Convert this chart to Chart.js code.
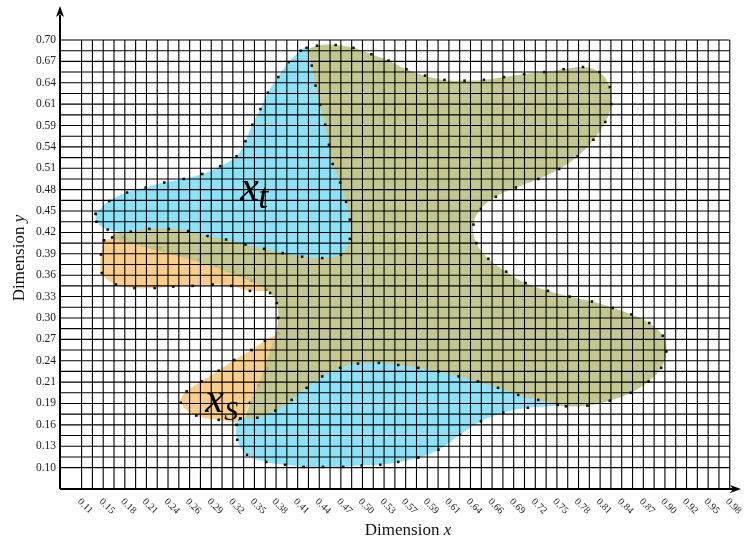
<!DOCTYPE html>
<html>
<head>
<meta charset="utf-8">
<script src="https://cdn.jsdelivr.net/npm/chart.js@4.4.1/dist/chart.umd.min.js"></script>
<style>
  html, body { margin: 0; padding: 0; background: #fff; }
  canvas { display: block; }
</style>
</head>
<body>
<canvas id="domains" width="745" height="541"></canvas>
<script>
// tick labels as printed on the axes (every second grid line)
const xTickLabels = ["0.11", "0.15", "0.18", "0.21", "0.24", "0.26", "0.29", "0.32", "0.35", "0.38",
  "0.41", "0.44", "0.47", "0.50", "0.53", "0.57", "0.59", "0.61", "0.64", "0.66", "0.69", "0.72",
  "0.75", "0.78", "0.81", "0.84", "0.87", "0.90", "0.92", "0.95", "0.98"];
const yTickLabels = ["0.10", "0.13", "0.16", "0.19", "0.21", "0.24", "0.27", "0.30", "0.33", "0.36",
  "0.39", "0.42", "0.45", "0.48", "0.51", "0.54", "0.59", "0.61", "0.64", "0.67", "0.70"];

// outlines, [x, y] in axis units
const xtUpper = [[0.129,0.456],[0.147,0.474],[0.171,0.486],[0.196,0.493],[0.221,0.500],[0.247,0.505],
  [0.272,0.512],[0.296,0.523],[0.318,0.537],[0.330,0.558],[0.339,0.581],[0.350,0.603],[0.360,0.626],
  [0.374,0.648],[0.388,0.669],[0.404,0.685],[0.412,0.689],[0.419,0.664],[0.424,0.636],[0.430,0.609],
  [0.437,0.581],[0.442,0.553],[0.447,0.526],[0.457,0.500],[0.465,0.473],[0.470,0.448],[0.470,0.421],
  [0.458,0.399],[0.433,0.394],[0.406,0.396],[0.380,0.401],[0.355,0.407],[0.330,0.413],[0.304,0.420],
  [0.279,0.425],[0.253,0.432],[0.227,0.435],[0.201,0.435],[0.176,0.431],[0.145,0.434],[0.130,0.445]];

const xtLower = [[0.323,0.169],[0.346,0.170],[0.370,0.180],[0.392,0.195],[0.412,0.212],[0.433,0.228],
  [0.457,0.240],[0.481,0.246],[0.509,0.247],[0.535,0.244],[0.562,0.240],[0.589,0.235],[0.616,0.228],
  [0.642,0.221],[0.669,0.212],[0.696,0.202],[0.723,0.195],[0.749,0.188],[0.709,0.184],[0.676,0.177],
  [0.646,0.165],[0.618,0.146],[0.589,0.125],[0.562,0.114],[0.535,0.108],[0.511,0.104],[0.486,0.103],
  [0.461,0.101],[0.434,0.101],[0.408,0.101],[0.383,0.104],[0.358,0.108],[0.332,0.118],[0.319,0.139],
  [0.318,0.160]];

const xsLeft = [[0.140,0.419],[0.165,0.423],[0.191,0.415],[0.216,0.408],[0.241,0.401],[0.267,0.392],
  [0.291,0.384],[0.315,0.374],[0.338,0.363],[0.359,0.350],[0.336,0.348],[0.311,0.355],[0.286,0.357],
  [0.259,0.355],[0.233,0.354],[0.208,0.352],[0.181,0.352],[0.156,0.357],[0.137,0.373],[0.136,0.399]];

const xsLower = [[0.374,0.288],[0.356,0.278],[0.338,0.265],[0.315,0.251],[0.294,0.236],[0.271,0.221],
  [0.251,0.207],[0.243,0.191],[0.264,0.173],[0.294,0.167],[0.322,0.166],[0.336,0.191],[0.348,0.215],
  [0.360,0.239],[0.370,0.265]];

const overlap = [[0.407,0.683],[0.426,0.692],[0.451,0.693],[0.475,0.689],[0.499,0.680],[0.522,0.671],
  [0.546,0.659],[0.571,0.650],[0.597,0.644],[0.624,0.643],[0.650,0.644],[0.677,0.648],[0.704,0.652],
  [0.731,0.655],[0.757,0.659],[0.783,0.662],[0.805,0.655],[0.819,0.634],[0.821,0.610],[0.813,0.585],
  [0.797,0.560],[0.776,0.537],[0.751,0.519],[0.723,0.505],[0.693,0.493],[0.666,0.480],[0.646,0.463],
  [0.636,0.441],[0.640,0.415],[0.656,0.393],[0.680,0.375],[0.706,0.359],[0.736,0.348],[0.765,0.340],
  [0.795,0.333],[0.823,0.324],[0.848,0.315],[0.872,0.303],[0.890,0.285],[0.895,0.263],[0.888,0.240],
  [0.871,0.221],[0.847,0.205],[0.819,0.194],[0.789,0.187],[0.760,0.186],
  [0.723,0.191],[0.669,0.202],[0.589,0.219],[0.509,0.225],[0.442,0.207],[0.395,0.180],[0.351,0.159],
  [0.330,0.162],[0.335,0.188],[0.343,0.207],[0.351,0.226],[0.358,0.247],[0.364,0.268],[0.371,0.289],
  [0.374,0.310],[0.372,0.331],[0.363,0.345],[0.343,0.359],[0.319,0.369],[0.294,0.379],[0.268,0.388],
  [0.243,0.396],[0.217,0.403],[0.192,0.410],[0.168,0.417],[0.151,0.423],
  [0.175,0.437],[0.268,0.437],[0.375,0.413],[0.455,0.420],[0.459,0.476],[0.434,0.560],[0.419,0.637],
  [0.408,0.672]];

// grid: a line every step, labels on every second one
const xFirst = 0.11, xStep = 0.0145, xCount = 60;
const yFirst = 0.10, yStep = 0.015, yCount = 40;
const xMin = xFirst - 2 * xStep, xMax = 0.9951;
const yMin = yFirst - 2 * yStep, yMax = 0.7463;

const blue = "#8de2f7";
const orange = "#f9cd8b";
const olive = "rgba(190, 194, 132, 0.9)";
const serif = '"Liberation Serif", "Times New Roman", serif';

function closed(points) {
  return points.concat([points[0]]).map(([x, y]) => ({ x: x, y: y }));
}

function shape(label, points, color) {
  return {
    label: label,
    data: closed(points),
    showLine: true,
    fill: "shape",
    tension: 0.4,
    backgroundColor: color,
    borderColor: "rgba(0,0,0,0)",
    borderWidth: 0,
    pointStyle: "rect",
    pointRadius: 1.8,
    pointBackgroundColor: "#111",
    pointBorderWidth: 0,
  };
}

// olive edge points that sit over the orange shape carry no dot
const oliveBare = [[54, 59], [63, 70]];
const oliveRadius = (c) =>
  oliveBare.some(([a, b]) => c.dataIndex >= a && c.dataIndex <= b) ? 0 : 1.8;

function arrowHead(ctx, tx, ty, dir) {
  ctx.beginPath();
  if (dir === "up") {
    ctx.moveTo(tx, ty);
    ctx.lineTo(tx - 4, ty + 11);
    ctx.lineTo(tx, ty + 8);
    ctx.lineTo(tx + 4, ty + 11);
  } else {
    ctx.moveTo(tx, ty);
    ctx.lineTo(tx - 11, ty - 4);
    ctx.lineTo(tx - 8, ty);
    ctx.lineTo(tx - 11, ty + 4);
  }
  ctx.closePath();
  ctx.fill();
}

function mixedTitle(ctx, plain, italic, cx, cy, size) {
  ctx.font = size + "px " + serif;
  const w1 = ctx.measureText(plain).width;
  ctx.font = "italic " + size + "px " + serif;
  const w2 = ctx.measureText(italic).width;
  const start = cx - (w1 + w2) / 2;
  ctx.font = size + "px " + serif;
  ctx.fillText(plain, start, cy);
  ctx.font = "italic " + size + "px " + serif;
  ctx.fillText(italic, start + w1, cy);
}

const gridPlugin = {
  id: "gridPlugin",
  afterDatasetsDraw(chart) {
    const { ctx, scales: { x, y } } = chart;
    const bottom = y.getPixelForValue(yMin);
    const top = y.getPixelForValue(yFirst + yCount * yStep);
    const left = x.getPixelForValue(xMin);
    const right = x.getPixelForValue(xFirst + xCount * xStep);
    ctx.save();
    ctx.strokeStyle = "#000";
    ctx.lineWidth = 1.1;
    ctx.beginPath();
    for (let i = 0; i <= xCount; i++) {
      const px = x.getPixelForValue(xFirst + i * xStep);
      ctx.moveTo(px, bottom);
      ctx.lineTo(px, top);
    }
    for (let j = 0; j <= yCount; j++) {
      const py = y.getPixelForValue(yFirst + j * yStep);
      ctx.moveTo(left, py);
      ctx.lineTo(right, py);
    }
    ctx.stroke();
    ctx.restore();
  },
  afterDraw(chart) {
    const { ctx, chartArea, scales: { x, y } } = chart;
    const x0 = chartArea.left, y0 = chartArea.bottom;
    ctx.save();
    // axes with arrow heads
    ctx.strokeStyle = "#000";
    ctx.fillStyle = "#000";
    ctx.lineWidth = 2;
    ctx.beginPath();
    ctx.moveTo(x0, y0);
    ctx.lineTo(x0, chartArea.top + 8);
    ctx.moveTo(x0, y0);
    ctx.lineTo(chartArea.right - 8, y0);
    ctx.stroke();
    arrowHead(ctx, x0, chartArea.top - 1, "up");
    arrowHead(ctx, chartArea.right, y0, "right");

    // tick labels
    ctx.fillStyle = "#222";
    ctx.font = "11.5px " + serif;
    ctx.textAlign = "right";
    ctx.textBaseline = "middle";
    yTickLabels.forEach((t, k) => {
      ctx.fillText(t, x0 - 4, y.getPixelForValue(yFirst + 2 * k * yStep));
    });
    ctx.font = "10px " + serif;
    ctx.textAlign = "left";
    ctx.textBaseline = "top";
    xTickLabels.forEach((t, k) => {
      const px = x.getPixelForValue(xFirst + 2 * k * xStep);
      ctx.save();
      ctx.translate(px + 1, y0 + 7.5);
      ctx.rotate(Math.PI / 4);
      ctx.fillText(t, 0, 0);
      ctx.restore();
    });

    // axis titles
    ctx.fillStyle = "#111";
    ctx.textAlign = "left";
    ctx.textBaseline = "alphabetic";
    mixedTitle(ctx, "Dimension ", "x", 408, 535, 17);
    ctx.save();
    ctx.translate(24, 258);
    ctx.rotate(-Math.PI / 2);
    mixedTitle(ctx, "Dimension ", "y", 0, 0, 17);
    ctx.restore();

    // domain names
    ctx.fillStyle = "#000";
    ctx.font = "italic 42px " + serif;
    ctx.fillText("x", x.getPixelForValue(0.3228), y.getPixelForValue(0.4757));
    ctx.font = "italic 36px " + serif;
    ctx.fillText("t", x.getPixelForValue(0.3470), y.getPixelForValue(0.4645));
    ctx.font = "italic 42px " + serif;
    ctx.fillText("x", x.getPixelForValue(0.2760), y.getPixelForValue(0.1785));
    ctx.font = "italic 28px " + serif;
    ctx.fillText("S", x.getPixelForValue(0.3015), y.getPixelForValue(0.1673));
    ctx.restore();
  },
};

const oliveSet = shape("overlap", overlap, olive);
oliveSet.pointRadius = oliveRadius;

const config = {
  type: "scatter",
  data: {
    datasets: [
      shape("x_t upper", xtUpper, blue),
      shape("x_t lower", xtLower, blue),
      oliveSet,
      shape("x_s left", xsLeft, orange),
      shape("x_s lower", xsLower, orange),
    ],
  },
  options: {
    responsive: false,
    animation: false,
    devicePixelRatio: 1,
    events: [],
    layout: { padding: { left: 60, right: 1, top: 7, bottom: 52 } },
    scales: {
      x: { type: "linear", min: xMin, max: xMax, display: false },
      y: { type: "linear", min: yMin, max: yMax, display: false },
    },
    plugins: {
      legend: { display: false },
      tooltip: { enabled: false },
    },
  },
  plugins: [gridPlugin],
};

new Chart(document.getElementById("domains"), config);
</script>
</body>
</html>
